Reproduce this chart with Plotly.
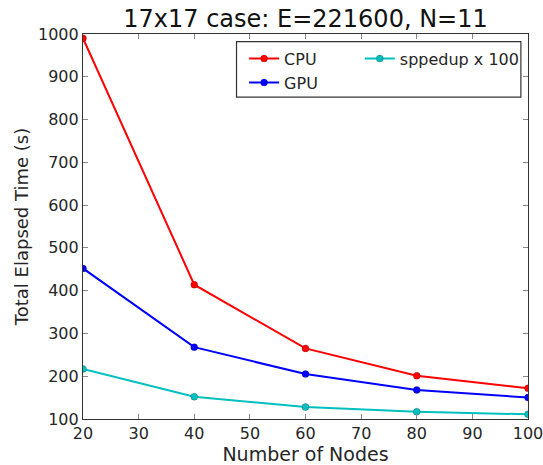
import plotly.graph_objects as go

nodes = [20, 40, 60, 80, 100]
cpu = [990, 414, 265, 201, 172]
gpu = [452, 268, 205, 168, 150]
speedup_x100 = [217, 152, 128, 117, 111]

x_ticks = [20, 30, 40, 50, 60, 70, 80, 90, 100]
y_ticks = [100, 200, 300, 400, 500, 600, 700, 800, 900, 1000]

FONT = "DejaVu Sans"
TXT = "#262626"

fig = go.Figure()

def add(name, y, color, legend):
    fig.add_trace(go.Scatter(
        x=nodes, y=y, name=name, mode="lines+markers",
        line=dict(color=color, width=2),
        marker=dict(color=color, size=7, line=dict(color="rgba(0,0,0,0.35)", width=0.6)),
        legend=legend,
    ))

add("CPU", cpu, "#ff0000", "legend")
add("GPU", gpu, "#0000ff", "legend")
add("sppedup x 100", speedup_x100, "#00bfbf", "legend2")

axis_common = dict(
    showline=True, linecolor="#333333", linewidth=1.2, mirror="ticks",
    ticks="inside", ticklen=5, tickcolor="#888888", tickwidth=1,
    showgrid=False, zeroline=False, automargin=False,
    ticklabeloverflow="allow",
    tickfont=dict(family=FONT, size=16, color=TXT),
)

fig.update_xaxes(range=[20, 100], tickvals=x_ticks, ticklabelstandoff=0,
                 title=dict(text="Number of Nodes", font=dict(family=FONT, size=19, color=TXT), standoff=3),
                 **axis_common)
fig.update_yaxes(range=[100, 1000], tickvals=y_ticks, ticklabelstandoff=0,
                 title=dict(text="Total Elapsed Time (s)", font=dict(family=FONT, size=18, color=TXT), standoff=4),
                 **axis_common)

leg_common = dict(
    bgcolor="rgba(0,0,0,0)", borderwidth=0,
    font=dict(family=FONT, size=16, color=TXT),
    xanchor="left", yanchor="top", itemwidth=30,
)

fig.update_layout(
    width=543, height=465,
    margin=dict(l=83, r=15, t=34, b=46),
    paper_bgcolor="white", plot_bgcolor="white",
    title=dict(text="17x17 case: E=221600, N=11", x=0.5, xref="paper", xanchor="center",
               y=0.978, yanchor="top",
               font=dict(family=FONT, size=24, color="#111111")),
    legend=dict(x=0.362, y=0.98, tracegroupgap=0, **leg_common),
    legend2=dict(x=0.622, y=0.98, **leg_common),
    showlegend=True,
)

fig.add_shape(type="rect", xref="paper", yref="paper",
              x0=0.345, x1=0.984, y0=0.836, y1=0.980,
              line=dict(color="#333333", width=1.2), fillcolor="rgba(0,0,0,0)", layer="above")

fig.write_html("out.html")
